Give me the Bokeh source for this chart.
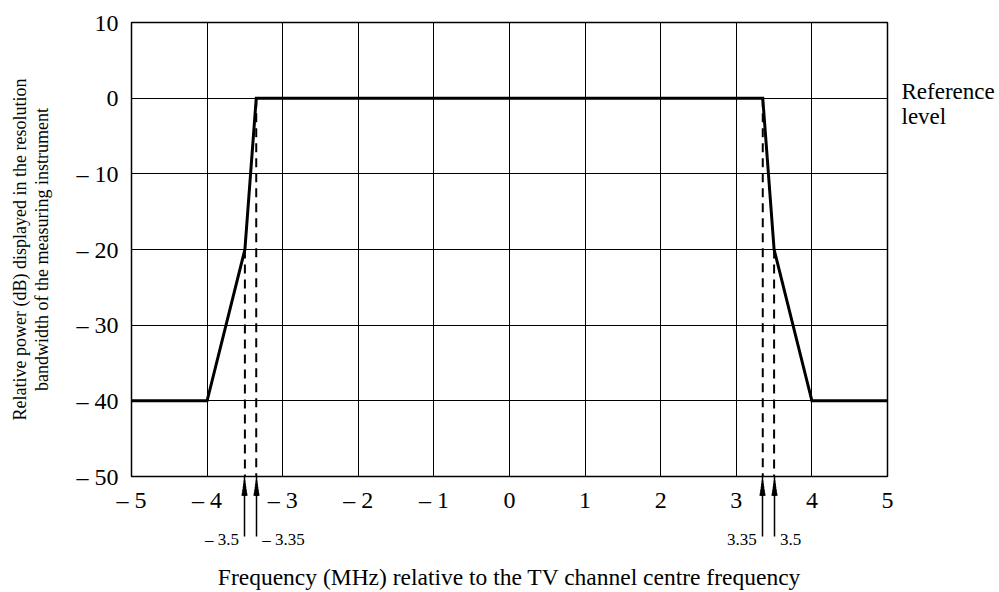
from bokeh.plotting import figure
from bokeh.models import Range1d, FixedTicker, LinearAxis
from bokeh.embed import file_html
from bokeh.resources import INLINE

# ---- data ----
freq = [-5, -4, -3.5, -3.35, 3.35, 3.5, 4, 5]
level = [-40, -40, -20, 0, 0, -20, -40, -40]

marker_freqs = [-3.5, -3.35, 3.35, 3.5]
marker_levels = [-20, 0, 0, -20]
marker_labels = ["\u2013 3.5", "\u2013 3.35", "3.35", "3.5"]
marker_side = [-1, 1, -1, 1]          # label to the left (-1) or right (+1) of its arrow

x_ticks = [-5, -4, -3, -2, -1, 0, 1, 2, 3, 4, 5]
x_tick_labels = ["\u2013 5", "\u2013 4", "\u2013 3", "\u2013 2", "\u2013 1", "0", "1", "2", "3", "4", "5"]
y_ticks = [-50, -40, -30, -20, -10, 0, 10]
y_tick_labels = ["\u2013 50", "\u2013 40", "\u2013 30", "\u2013 20", "\u2013 10", "0", "10"]

x_title = "Frequency (MHz) relative to the TV channel centre frequency"
y_title = "Relative power (dB) displayed in the resolution\nbandwidth of the measuring instrument"
ref_level = 0
ref_text = "Reference\nlevel"

FONT = "Liberation Serif"
X_MIN, X_MAX = -5, 5
Y_MIN, Y_MAX = -50, 10

W, H = 999, 592
B_LEFT, B_RIGHT, B_TOP, B_BOTTOM = 131, 112, 22, 116

p = figure(width=W, height=H, output_backend="svg", toolbar_location=None,
           x_range=Range1d(X_MIN, X_MAX), y_range=Range1d(Y_MIN, Y_MAX),
           min_border_left=B_LEFT, min_border_right=B_RIGHT,
           min_border_top=B_TOP, min_border_bottom=B_BOTTOM)
p.background_fill_color = "white"
p.border_fill_color = "white"
p.outline_line_color = "black"
p.outline_line_width = 1.5
p.outline_line_alpha = 1


def plain(ax, font_size="24px"):
    ax.major_tick_line_color = None
    ax.minor_tick_line_color = None
    ax.major_tick_out = 0
    ax.major_tick_in = 0
    ax.minor_tick_out = 0
    ax.minor_tick_in = 0
    ax.axis_line_color = None
    ax.major_label_text_font = FONT
    ax.major_label_text_font_size = font_size
    ax.major_label_text_color = "black"
    ax.axis_label_text_font = FONT
    ax.axis_label_text_font_style = "normal"
    ax.axis_label_text_color = "black"
    return ax


def tick_axis(width, tick_out, tick_in):
    """An unlabelled axis whose minor ticks (at the marker frequencies) draw part of an arrow."""
    a = plain(LinearAxis(ticker=FixedTicker(ticks=[], minor_ticks=marker_freqs)))
    a.major_label_standoff = 0
    a.minor_tick_line_color = "black"
    a.minor_tick_line_width = width
    a.minor_tick_out = tick_out
    a.minor_tick_in = tick_in
    return a


# arrows under the axis pointing up at the frame edge
HEAD = 19          # arrowhead length, px
SHAFT = 60         # full arrow length, px
# first axis: upper part of the shaft; it occupies HEAD px, so the next axes start there
arrow_axes = [tick_axis(1.5, HEAD, 0)]
# lower part of the shaft, drawn outward from HEAD px
arrow_axes.append(tick_axis(1.5, 0, -(SHAFT - HEAD)))
# arrowhead: from a start depth up to the head base, width growing with depth
for start, width in [(4, 1.9), (7, 2.7), (10, 3.6), (13, 4.5), (16, 5.4), (18, 6.2)]:
    arrow_axes.append(tick_axis(width, 0, HEAD - start))

# main x axis (tick labels); its line sits HEAD px below the frame
xa = plain(p.xaxis[0])
xa.ticker = FixedTicker(ticks=x_ticks)
xa.major_label_overrides = {float(t): s for t, s in zip(x_ticks, x_tick_labels)}
xa.major_label_standoff = 10 - HEAD

# marker value labels beside the arrows, plus the x title
EM = {"\u2013": 0.5, " ": 0.25, ".": 0.25}
LBL_PX = 17
px_per_x = (W - B_LEFT - B_RIGHT) / (X_MAX - X_MIN)
gap_px = 6
lbl_pos, lbl_over = [], {}
for f, s, sd in zip(marker_freqs, marker_labels, marker_side):
    half = sum(EM.get(c, 0.5) for c in s) * LBL_PX / 2
    x = f + sd * (gap_px + half) / px_per_x
    lbl_pos.append(x)
    lbl_over[float(x)] = s
la = plain(LinearAxis(ticker=FixedTicker(ticks=lbl_pos)), f"{LBL_PX}px")
la.major_label_overrides = lbl_over
la.major_label_standoff = 14
la.axis_label = x_title
la.axis_label_text_font_size = "23.5px"
la.axis_label_standoff = 12

p.below = arrow_axes + [xa, la]

# y axis
ya = plain(p.yaxis[0])
ya.ticker = FixedTicker(ticks=y_ticks)
ya.major_label_overrides = {float(t): s for t, s in zip(y_ticks, y_tick_labels)}
ya.major_label_standoff = 13
ya.axis_label = y_title
ya.axis_label_text_font_size = "18px"
ya.axis_label_text_line_height = 1.1
ya.axis_label_standoff = 22

# "Reference level" on the right (its own range nudges the two-line label
# a few pixels below the 0 dB line, as in the original)
ref_shift = 6 * (Y_MAX - Y_MIN) / (H - B_TOP - B_BOTTOM)
p.extra_y_ranges = {"ref": Range1d(Y_MIN + ref_shift, Y_MAX + ref_shift)}
ra = plain(LinearAxis(y_range_name="ref", ticker=FixedTicker(ticks=[ref_level])), "23px")
ra.major_label_overrides = {float(ref_level): ref_text}
ra.major_label_text_line_height = 1.0
ra.major_label_standoff = 14
p.add_layout(ra, "right")

for g in (p.xgrid[0], p.ygrid[0]):
    g.grid_line_color = "black"
    g.grid_line_width = 1
    g.grid_line_alpha = 1
p.xgrid.ticker = FixedTicker(ticks=x_ticks)
p.ygrid.ticker = FixedTicker(ticks=y_ticks)

# dashed markers from curve down to the axis
p.segment(x0=marker_freqs, y0=marker_levels, x1=marker_freqs, y1=[Y_MIN] * len(marker_freqs),
          line_color="black", line_width=2, line_dash="9 6")

# mask curve
p.line(freq, level, line_color="black", line_width=3, line_join="miter")

open("out.html", "w").write(file_html(p, INLINE))
